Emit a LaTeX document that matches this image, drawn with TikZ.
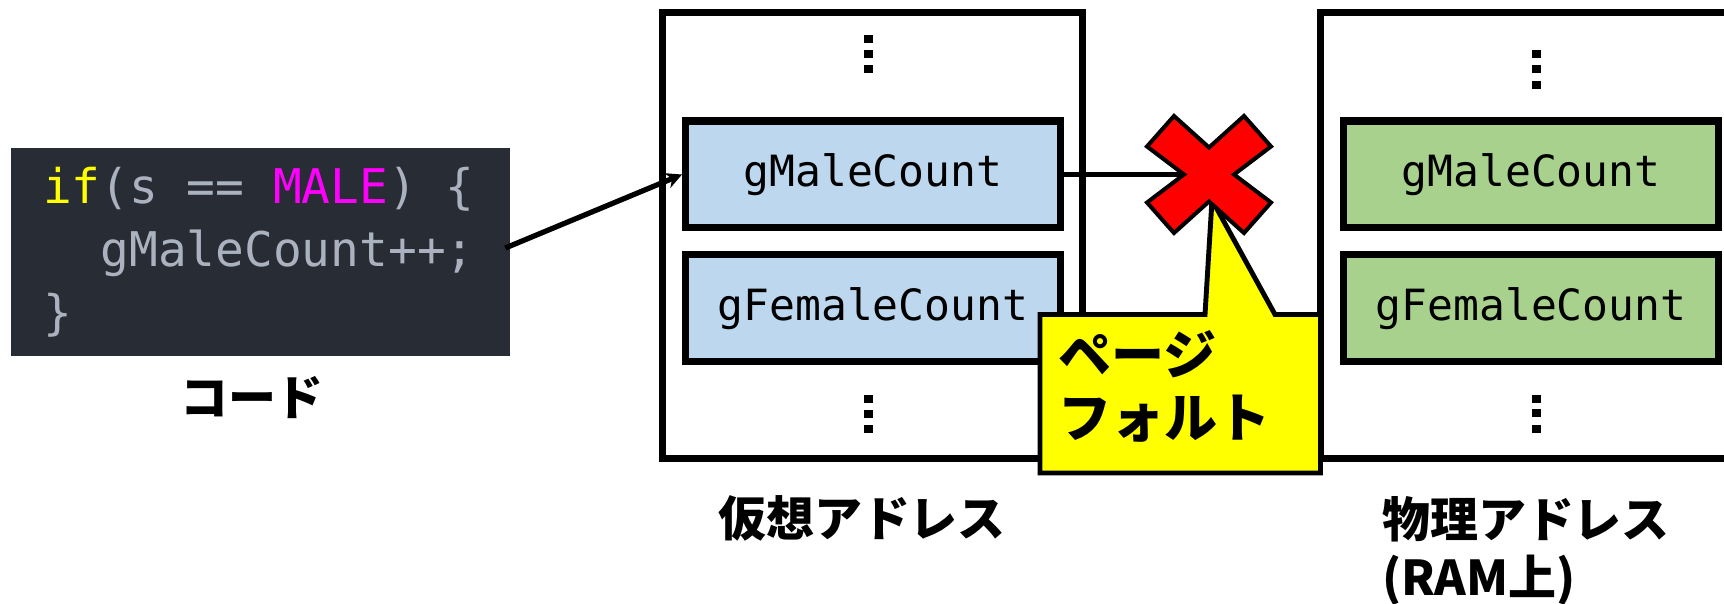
\documentclass[tikz,border=0pt]{standalone}
\usepackage{fontspec}
\newfontfamily\jpfont{Noto Sans CJK JP}
\newfontfamily\codefont{DejaVu Sans Mono}
\usetikzlibrary{arrows.meta}
\definecolor{CodeBg}{HTML}{282C34}
\definecolor{CodeGray}{HTML}{ABB2BF}
\definecolor{KeyYellow}{HTML}{FFFF00}
\definecolor{ConstMagenta}{HTML}{FF00FF}
\definecolor{VirtBlue}{HTML}{BDD7EE}
\definecolor{PhysGreen}{HTML}{A9D18E}
\definecolor{NoteYellow}{HTML}{FFFF00}
\definecolor{CrossRed}{HTML}{FF0000}

\begin{document}
\begin{tikzpicture}[x=0.02cm,y=0.02cm,
    membox/.style={draw,line width=4pt,minimum width=8.41cm,minimum height=8.926cm,inner sep=0pt},
    varbox/.style={draw,line width=4pt,minimum width=7.5cm,minimum height=2.14cm,inner sep=0pt,
      font=\codefont\fontsize{24.5pt}{28pt}\selectfont},
    caption/.style={inner sep=0pt,font=\jpfont\bfseries\fontsize{27.3pt}{33pt}\selectfont},
    conn/.style={line width=3pt}]
  \path[use as bounding box,clip] (0,0) rectangle (1724,604);
  % source snippet
  \node[fill=CodeBg,minimum width=9.98cm,minimum height=4.16cm,text width=8.7cm,
    inner xsep=0.64cm,inner ysep=0pt,align=left,text=CodeGray,
    font=\codefont\fontsize{27.2pt}{35.9pt}\selectfont] (code) at (260.5,352)
    {\spaceskip=0.602em\relax
     \textcolor{KeyYellow}{if}(s == \textcolor{ConstMagenta}{MALE}) \{\\
     \hspace*{1.204em}gMaleCount++;\\
     \}};
  \node[caption] (codelbl) at (252,206) {コード};
  % virtual address space
  \node[membox] (virt) at (872.75,368.15) {};
  \node[varbox,fill=VirtBlue] (vmale) at (873,429.5) {gMaleCount};
  \node[varbox,fill=VirtBlue] (vfemale) at (873,295.75) {gFemaleCount};
  \foreach \y in {565,550,535,205,190,175}
    \fill (868,\y) ++(-4.5,-4) rectangle ++(9,8);
  \node[caption] (virtlbl) at (862,86) {仮想アドレス};
  % physical address space (RAM)
  \node[membox] (phys) at (1530.75,368.15) {};
  \node[varbox,fill=PhysGreen] (pmale) at (1531,429.5) {gMaleCount};
  \node[varbox,fill=PhysGreen] (pfemale) at (1531,295.75) {gFemaleCount};
  \foreach \y in {550,535,519,205,190.5,174.5}
    \fill (1536,\y) ++(-4.5,-4) rectangle ++(9,8);
  \node[caption,align=left] (physlbl) at (1526,53) {物理アドレス\\(RAM上)};
  % access from the code, then the failing translation
  \coordinate (src) at ([shift={(-5,4)}]code.east);
  \coordinate (cross) at (1209,429.5);
  \coordinate (tip) at (1212,404);
  \draw[conn,-{Stealth[length=9pt,width=9pt]}] (src) -- (vmale.west);
  \draw[conn] (vmale.east) -- (cross);
  % page fault note
  \draw[line width=2.8pt,fill=NoteYellow] (1040,289.5) -- (1205,289.5) -- (tip)
    -- (1275,289.5) -- (1320.5,289.5) -- (1320.5,131) -- (1040,131) -- cycle;
  \node[anchor=west,align=left,inner sep=0pt,
    font=\jpfont\bfseries\fontsize{30.2pt}{35.9pt}\selectfont] (fault) at (1058,217.5)
    {ページ\\フォルト};
  \begin{scope}[shift={(cross)}]
    \draw[line width=2.3pt,fill=CrossRed,line join=miter]
      (-62,28) -- (-35,58.5) -- (0,27) -- (35,58.5) -- (62,28) -- (25,0)
      -- (62,-28) -- (35,-58.5) -- (0,-27) -- (-35,-58.5) -- (-62,-28) -- (-25,0) -- cycle;
  \end{scope}
\end{tikzpicture}
\end{document}
